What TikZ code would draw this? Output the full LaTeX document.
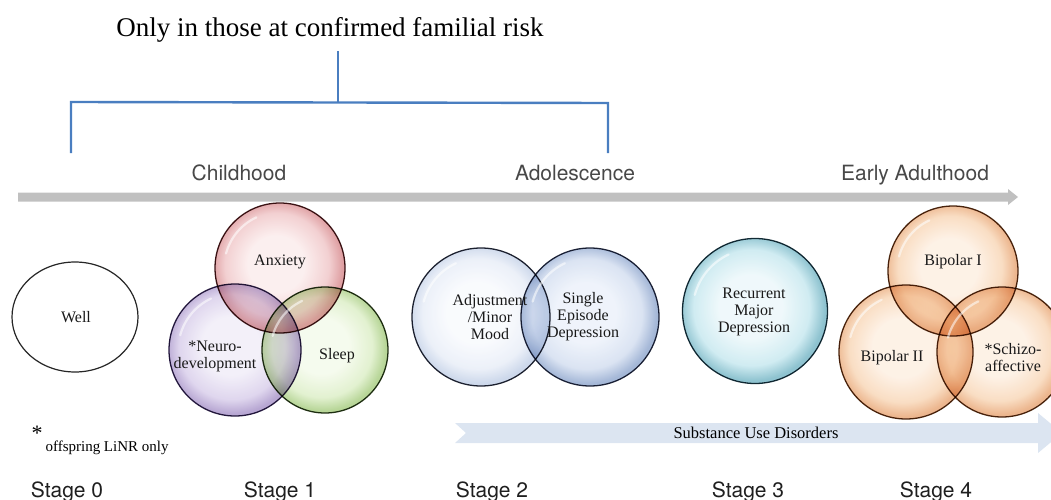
\documentclass[tikz,border=0pt]{standalone}
\usepackage{fontspec}
\setmainfont{Liberation Serif}
\setsansfont{TeX Gyre Heros}
\usetikzlibrary{shapes.geometric}

% palette
\definecolor{bracketblue}{RGB}{74,126,192}
\definecolor{timegray}{RGB}{192,192,192}
\definecolor{sudband}{RGB}{220,229,241}
\definecolor{agegray}{RGB}{72,72,72}

\definecolor{redin}{RGB}{250,233,233}   \definecolor{redmid}{RGB}{238,192,194}
\definecolor{redrim}{RGB}{212,128,132}  \definecolor{redline}{RGB}{62,22,24}
\definecolor{purin}{RGB}{239,235,247}   \definecolor{purmid}{RGB}{212,200,232}
\definecolor{purrim}{RGB}{160,138,196}  \definecolor{purline}{RGB}{40,28,66}
\definecolor{grnin}{RGB}{242,249,232}   \definecolor{grnmid}{RGB}{216,236,192}
\definecolor{grnrim}{RGB}{160,200,118}  \definecolor{grnline}{RGB}{35,50,22}
\definecolor{pblin}{RGB}{247,249,253}   \definecolor{pblmid}{RGB}{229,235,246}
\definecolor{pblrim}{RGB}{188,203,228}  \definecolor{pblline}{RGB}{32,36,50}
\definecolor{bluin}{RGB}{233,239,249}   \definecolor{blumid}{RGB}{206,218,238}
\definecolor{blurim}{RGB}{135,160,202}  \definecolor{bluline}{RGB}{32,38,58}
\definecolor{tealin}{RGB}{233,246,249}  \definecolor{tealmid}{RGB}{192,229,237}
\definecolor{tealrim}{RGB}{105,175,192} \definecolor{tealline}{RGB}{22,46,56}
\definecolor{orgin}{RGB}{253,237,222}   \definecolor{orgmid}{RGB}{247,210,175}
\definecolor{orgrim}{RGB}{230,158,105}  \definecolor{orgline}{RGB}{75,40,15}

% glassy sphere shadings: pale centre, coloured rim
\newcommand\declaresphere[1]{%
  \pgfdeclareradialshading{sphere#1}{\pgfpoint{-2bp}{2bp}}{%
    color(0bp)=(#1in); color(11bp)=(#1in); color(20bp)=(#1mid);
    color(25bp)=(#1rim); color(50bp)=(#1rim)}}
\declaresphere{red}\declaresphere{pur}\declaresphere{grn}
\declaresphere{pbl}\declaresphere{blu}\declaresphere{teal}\declaresphere{org}

\tikzset{
  sphere/.style n args={3}{circle, inner sep=0pt, minimum size=#2,
    shading=sphere#1, fill opacity=0.75, draw=#3, line width=1.3pt},
  gloss/.style={white, line width=2.2pt, line cap=round, opacity=0.55},
  ctext/.style={font=\fontsize{16}{17}\selectfont, align=center, text=black!90},
  agelabel/.style={font=\sffamily\fontsize{21}{25}\selectfont, text=agegray, anchor=base},
  stagelabel/.style={font=\sffamily\fontsize{21}{25}\selectfont, text=black!88, anchor=base},
  bracket/.style={draw=bracketblue, line width=2.4pt},
}

% white highlight arc in the upper left of a sphere (y grows downwards): centre, radius
\newcommand\glint[2]{%
  \draw[gloss] (#1) ++(195:{0.86*#2}) arc[start angle=195, end angle=245, radius={0.86*#2}];}

\begin{document}
\begin{tikzpicture}[x=1pt, y=-1pt]
\clip (0,0) rectangle (1051,500);

% title and bracket spanning childhood to adolescence
\node[font=\fontsize{27}{30}\selectfont, anchor=base] (title) at (330,37)
  {Only in those at confirmed familial risk};
\coordinate (stemtop) at (338,51);
\coordinate (stembot) at (338,102);
\coordinate (brL) at (71,102);
\coordinate (brLend) at (71,153);
\coordinate (brR) at (608,103);
\coordinate (brRend) at (608,153);
\draw[bracket] (brLend) -- (brL) -- (brR) -- (brRend);
\draw[bracket] (stemtop) -- (stembot);

% age labels and timeline arrow
\node[agelabel] (child) at (239,180) {Childhood};
\node[agelabel] (adol) at (575,180) {Adolescence};
\node[agelabel] (adult) at (915,180) {Early Adulthood};
\coordinate (tstart) at (18,197);
\coordinate (tend) at (1018,197);
\fill[timegray] (tstart) ++(0,-4.5) -- (1008,192.5) -- (1008,189) -- (tend)
  -- (1008,205) -- (1008,201.5) -- (18,201.5) -- cycle;

% substance use band
\fill[sudband] (455,423) -- (1038,423) -- (1038,413) -- (1062,433) -- (1038,453)
  -- (1038,443) -- (455,443) -- (466,433) -- cycle;
\node[font=\fontsize{16.5}{18}\selectfont] (sud) at (756,433) {Substance Use Disorders};

% stage 0
\node[ellipse, draw=black!85, line width=1.2pt, fill=white,
  minimum width=126pt, minimum height=110pt, inner sep=0pt] (well) at (75,317) {};

% overlapping spheres, mixed multiplicatively
\begin{scope}[blend group=multiply]
  \node[sphere={red}{130pt}{redline}] (anx) at (280,268) {};
  \node[sphere={pur}{132pt}{purline}] (neuro) at (235,350) {};
  \node[sphere={grn}{126pt}{grnline}] (sleep) at (325,350) {};
  \node[sphere={pbl}{138pt}{pblline}] (adj) at (481,317) {};
  \node[sphere={blu}{138pt}{bluline}] (single) at (590,317) {};
  \node[sphere={teal}{145pt}{tealline}] (recur) at (755,311) {};
  \node[sphere={org}{130pt}{orgline}] (bpone) at (953,271) {};
  \node[sphere={org}{134pt}{orgline}] (bptwo) at (906,352) {};
  \node[sphere={org}{130pt}{orgline}] (schizo) at (1002,352) {};
\end{scope}

% highlights
\glint{anx}{65} \glint{neuro}{66} \glint{sleep}{63}
\glint{adj}{69} \glint{single}{69} \glint{recur}{72.5}
\glint{bpone}{65} \glint{bptwo}{67} \glint{schizo}{65}

% circle texts
\node[ctext] (twell) at (76,317) {Well};
\node[ctext] (tanx) at (280,262) {Anxiety};
\node[ctext] (tneuro) at (215,356) {*Neuro-\\development};
\node[ctext] (tsleep) at (337,356) {Sleep};
\node[ctext] (tadj) at (490,317) {Adjustment\\/Minor\\Mood};
\node[ctext] (tsingle) at (583,317) {Single\\Episode\\Depression};
\node[ctext] (trecur) at (754,312) {Recurrent\\Major\\Depression};
\node[ctext] (tbpone) at (953,262) {Bipolar I};
\node[ctext] (tbptwo) at (892,358) {Bipolar II};
\node[ctext] (tschizo) at (1013,358) {*Schizo-\\affective};

% footnote
\node[font=\fontsize{22}{22}\selectfont, anchor=base] (star) at (37,440) {*};
\node[font=\fontsize{15}{17}\selectfont, anchor=base west] (foot) at (42,451) {offspring LiNR only};

% stage labels
\node[stagelabel] (s0) at (67,497) {Stage 0};
\node[stagelabel] (s1) at (280,497) {Stage 1};
\node[stagelabel] (s2) at (492,497) {Stage 2};
\node[stagelabel] (s3) at (748,497) {Stage 3};
\node[stagelabel] (s4) at (936,497) {Stage 4};
\end{tikzpicture}
\end{document}
